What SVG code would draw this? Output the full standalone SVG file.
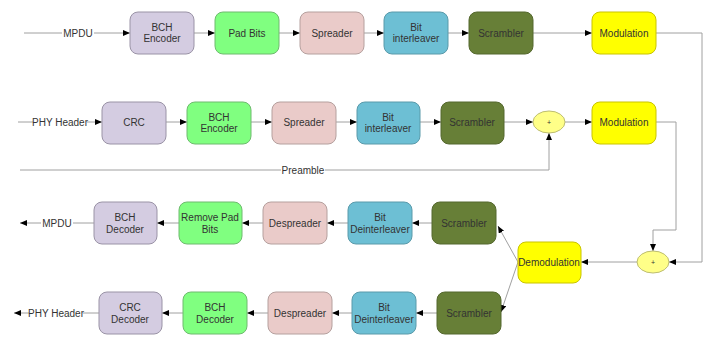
<svg xmlns="http://www.w3.org/2000/svg" width="711" height="338" viewBox="0 0 711 338">
<defs>
<marker id="ah" markerWidth="7" markerHeight="6" refX="7" refY="3" orient="auto" markerUnits="userSpaceOnUse">
<path d="M0,0 L7,3 L0,6 z" fill="#000"/>
</marker>
<style>
text{font-family:"Liberation Sans",Arial,sans-serif;font-size:10px;fill:#333;text-anchor:middle;dominant-baseline:central}
.b{stroke-width:1}
.lav{fill:#D4CCE1;stroke:#9a93a6}
.grn{fill:#80FF80;stroke:#6fba6f}
.pnk{fill:#EACBC9;stroke:#b5a09e}
.blu{fill:#6DBFD4;stroke:#5a9aaa}
.olv{fill:#677F37;stroke:#55682e}
.yel{fill:#FFFF00;stroke:#c9c400}
.ell{fill:#FFFF88;stroke:#bdbd70}
.c{fill:none;stroke:#a0a0a0;stroke-width:1;marker-end:url(#ah)}
.n{fill:none;stroke:#a0a0a0;stroke-width:1}
.lbl{fill:#333}
.bg{fill:#fff}
</style>
</defs>
<rect width="711" height="338" fill="#fff"/>
<g id="connectors">
<!-- row 1 -->
<path class="c" d="M24,33 H130"/>
<path class="c" d="M194,33 H215"/>
<path class="c" d="M279,33 H300"/>
<path class="c" d="M364,33 H384"/>
<path class="c" d="M448,33 H469"/>
<path class="c" d="M533,33 H592"/>
<path class="c" d="M656,33 H702 V262 H669"/>
<!-- row 2 -->
<path class="c" d="M18,122 H102"/>
<path class="c" d="M166,122 H187"/>
<path class="c" d="M251,122 H272"/>
<path class="c" d="M336,122 H357"/>
<path class="c" d="M420,122 H441"/>
<path class="c" d="M504,122 H533"/>
<path class="c" d="M565,122 H592"/>
<path class="c" d="M20,170 H549 V133"/>
<path class="c" d="M656,122 H676 V230 H653 V251"/>
<!-- receive -->
<path class="c" d="M637,262 H581"/>
<path class="c" d="M518,262 L498,226"/>
<path class="c" d="M518,262 L501,312"/>
<path class="c" d="M432,223 H412"/>
<path class="c" d="M348,223 H327"/>
<path class="c" d="M263,223 H242"/>
<path class="c" d="M179,223 H157"/>
<path class="c" d="M94,223 H20"/>
<path class="c" d="M437,313 H416"/>
<path class="c" d="M352,313 H332"/>
<path class="c" d="M268,313 H247"/>
<path class="c" d="M183,313 H162"/>
<path class="c" d="M99,313 H14"/>
<!-- edge labels -->
<rect class="bg" x="62" y="27" width="32" height="12"/>
<text x="78" y="33">MPDU</text>
<rect class="bg" x="33" y="116" width="54" height="12"/>
<text x="60" y="122">PHY Header</text>
<rect class="bg" x="281" y="164" width="44" height="12"/>
<text x="303" y="170">Preamble</text>
<rect class="bg" x="41" y="217" width="32" height="12"/>
<text x="57" y="223">MPDU</text>
<rect class="bg" x="29" y="307" width="54" height="12"/>
<text x="56" y="313">PHY Header</text>
</g>
<g id="tx-bch-encoder"><rect class="lav" x="130" y="12" width="64" height="42" rx="8"/><text x="162" y="27">BCH</text><text x="162" y="38">Encoder</text></g>
<g id="tx-pad-bits"><rect class="grn" x="215" y="12" width="64" height="42" rx="8"/><text x="247" y="33">Pad Bits</text></g>
<g id="tx-spreader-1"><rect class="pnk" x="300" y="12" width="64" height="42" rx="8"/><text x="332" y="33">Spreader</text></g>
<g id="tx-interleaver-1"><rect class="blu" x="384" y="12" width="64" height="42" rx="8"/><text x="416" y="27">Bit</text><text x="416" y="38">interleaver</text></g>
<g id="tx-scrambler-1"><rect class="olv" x="469" y="12" width="64" height="42" rx="8"/><text x="501" y="33">Scrambler</text></g>
<g id="tx-modulation-1"><rect class="yel" x="592" y="12" width="64" height="42" rx="8"/><text x="624" y="33">Modulation</text></g>

<g id="tx-crc"><rect class="lav" x="102" y="102" width="64" height="42" rx="8"/><text x="134" y="122">CRC</text></g>
<g id="tx-bch-encoder-2"><rect class="grn" x="187" y="102" width="64" height="42" rx="8"/><text x="219" y="117">BCH</text><text x="219" y="128">Encoder</text></g>
<g id="tx-spreader-2"><rect class="pnk" x="272" y="102" width="64" height="42" rx="8"/><text x="304" y="122">Spreader</text></g>
<g id="tx-interleaver-2"><rect class="blu" x="357" y="102" width="63" height="42" rx="8"/><text x="388" y="117">Bit</text><text x="388" y="128">interleaver</text></g>
<g id="tx-scrambler-2"><rect class="olv" x="441" y="102" width="63" height="42" rx="8"/><text x="472" y="122">Scrambler</text></g>
<g id="tx-plus"><ellipse class="ell" cx="549" cy="122" rx="16" ry="11"/><text x="549" y="122" style="font-size:7px">+</text></g>
<g id="tx-modulation-2"><rect class="yel" x="592" y="102" width="64" height="42" rx="8"/><text x="624" y="122">Modulation</text></g>

<g id="rx-plus"><ellipse class="ell" cx="653" cy="262" rx="16" ry="11"/><text x="653" y="262" style="font-size:7px">+</text></g>
<g id="rx-demodulation"><rect class="yel" x="518" y="242" width="63" height="41" rx="8"/><text x="549" y="262">Demodulation</text></g>

<g id="rx-scrambler-1"><rect class="olv" x="432" y="202" width="64" height="42" rx="8"/><text x="464" y="223">Scrambler</text></g>
<g id="rx-deinterleaver-1"><rect class="blu" x="348" y="202" width="64" height="42" rx="8"/><text x="380" y="217">Bit</text><text x="380" y="229">Deinterleaver</text></g>
<g id="rx-despreader-1"><rect class="pnk" x="263" y="202" width="64" height="42" rx="8"/><text x="295" y="223">Despreader</text></g>
<g id="rx-remove-pad"><rect class="grn" x="179" y="202" width="63" height="42" rx="8"/><text x="210" y="217">Remove Pad</text><text x="210" y="229">Bits</text></g>
<g id="rx-bch-decoder-1"><rect class="lav" x="94" y="202" width="63" height="42" rx="8"/><text x="125" y="217">BCH</text><text x="125" y="229">Decoder</text></g>

<g id="rx-scrambler-2"><rect class="olv" x="437" y="292" width="64" height="42" rx="8"/><text x="469" y="313">Scrambler</text></g>
<g id="rx-deinterleaver-2"><rect class="blu" x="352" y="292" width="64" height="42" rx="8"/><text x="384" y="307">Bit</text><text x="384" y="319">Deinterleaver</text></g>
<g id="rx-despreader-2"><rect class="pnk" x="268" y="292" width="64" height="42" rx="8"/><text x="300" y="313">Despreader</text></g>
<g id="rx-bch-decoder-2"><rect class="grn" x="183" y="292" width="64" height="42" rx="8"/><text x="215" y="307">BCH</text><text x="215" y="319">Decoder</text></g>
<g id="rx-crc-decoder"><rect class="lav" x="99" y="292" width="63" height="42" rx="8"/><text x="130" y="307">CRC</text><text x="130" y="319">Decoder</text></g>
</svg>
